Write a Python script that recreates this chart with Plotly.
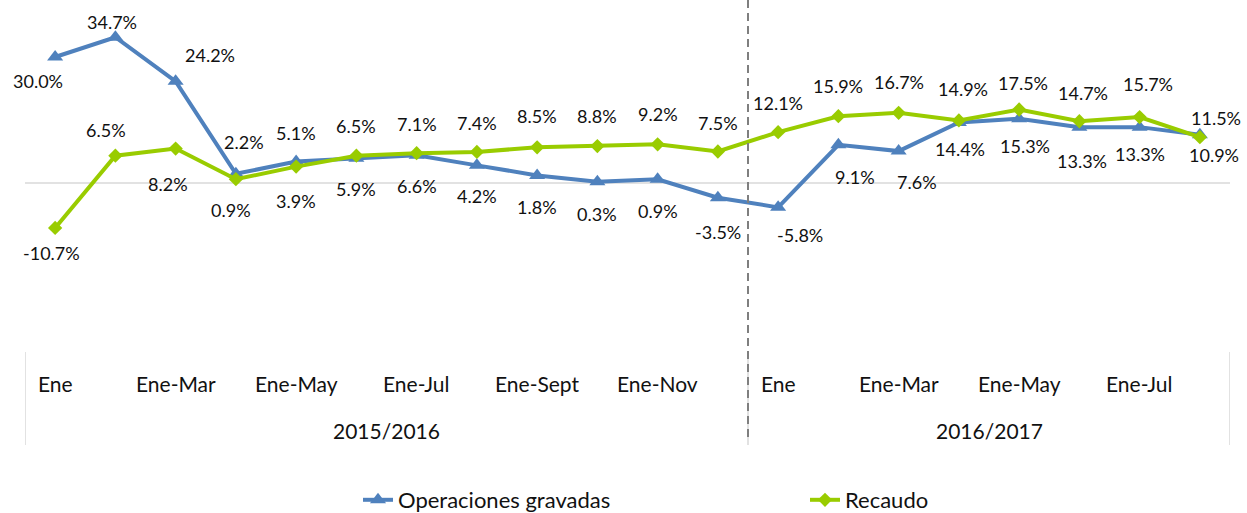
import plotly.graph_objects as go

# --- data -------------------------------------------------------------------
periodos = ["Ene", "", "Ene-Mar", "", "Ene-May", "", "Ene-Jul", "", "Ene-Sept", "",
            "Ene-Nov", "", "Ene", "", "Ene-Mar", "", "Ene-May", "", "Ene-Jul", ""]
grupos = ["2015/2016", "2016/2017"]
grupo_tamanos = [12, 8]

operaciones = [30.0, 34.7, 24.2, 2.2, 5.1, 5.9, 6.6, 4.2, 1.8, 0.3,
               0.9, -3.5, -5.8, 9.1, 7.6, 14.4, 15.3, 13.3, 13.3, 11.5]
recaudo = [-10.7, 6.5, 8.2, 0.9, 3.9, 6.5, 7.1, 7.4, 8.5, 8.8,
           9.2, 7.5, 12.1, 15.9, 16.7, 14.9, 17.5, 14.7, 15.7, 10.9]

# label nudges in screen pixels (right, down)
desp_operaciones = [(-17, 24), (-3, -15), (34, -26), (8, -32), (0, -29), (0, 31), (0, 31),
                    (0, 31), (0, 32), (0, 32), (0, 32), (0, 34), (22, 28), (17, 32),
                    (18, 31), (1, 26), (6, 27), (3, 34), (0, 27), (16, -17)]
desp_recaudo = [(-4, 25), (-9, -26), (-8, 35), (-5, 31), (0, 34), (0, -30), (0, -29),
                (0, -29), (0, -31), (0, -30), (0, -30), (0, -29), (0, -29), (0, -30),
                (0, -31), (4, -31), (4, -27), (4, -28), (8, -33), (14, 18)]

# --- layout constants (pixels) ------------------------------------------------
W, H = 1247, 513
PLOT_L, PLOT_R = 25, 1230
PLOT_T, PLOT_B = 5, 352
Y_ZERO, PX_PER_UNIT = 183, 4.2

AZUL = "#4F81BD"
VERDE = "#99CC00"
FUENTE = "Lato"
TEXTO = "#111111"

def py(pix):
    """Pixel row -> paper y."""
    return 1 - pix / H

def px(pix):
    return pix / W

n = len(periodos)
xs = list(range(n))
y_top = (Y_ZERO - PLOT_T) / PX_PER_UNIT
y_bot = -(PLOT_B - Y_ZERO) / PX_PER_UNIT

fig = go.Figure()
fig.add_trace(go.Scatter(
    x=xs, y=operaciones, name="Operaciones gravadas", mode="lines+markers",
    line=dict(color=AZUL, width=4),
    marker=dict(symbol="triangle-up", size=14, color=AZUL),
    cliponaxis=False, legend="legend",
))
fig.add_trace(go.Scatter(
    x=xs, y=recaudo, name="Recaudo", mode="lines+markers",
    line=dict(color=VERDE, width=4),
    marker=dict(symbol="diamond", size=11, color=VERDE),
    cliponaxis=False, legend="legend2",
))

annotations = []
for serie, desp in ((operaciones, desp_operaciones), (recaudo, desp_recaudo)):
    for i, (v, (dx, dy)) in enumerate(zip(serie, desp)):
        annotations.append(dict(
            x=i, y=v, xref="x", yref="y", text=f"{v:.1f}%", showarrow=False,
            xshift=dx, yshift=-dy, font=dict(family=FUENTE, size=18, color=TEXTO),
        ))

# category labels (first level)
for i, lab in enumerate(periodos):
    if lab:
        annotations.append(dict(
            x=i, y=py(383), xref="x", yref="paper", text=lab, showarrow=False,
            yanchor="middle", font=dict(family=FUENTE, size=21, color=TEXTO),
        ))

# group labels (second level) and group dividers
shapes = []
inicio = -0.5
limites = [inicio]
for g, tam in zip(grupos, grupo_tamanos):
    centro = inicio + tam / 2
    annotations.append(dict(
        x=centro, y=py(430), xref="x", yref="paper", text=g, showarrow=False,
        yanchor="middle", font=dict(family=FUENTE, size=21, color=TEXTO),
    ))
    inicio += tam
    limites.append(inicio)

for b in limites:
    shapes.append(dict(type="line", xref="x", yref="paper", x0=b, x1=b,
                       y0=py(PLOT_B), y1=py(445),
                       line=dict(color="#D9D9D9", width=1.5)))

# zero line
shapes.append(dict(type="line", xref="x", yref="y", x0=-0.5, x1=n - 0.5, y0=0, y1=0,
                   line=dict(color="#D9D9D9", width=1.5), layer="below"))

# dashed separator between the two periods
shapes.append(dict(type="line", xref="x", yref="paper", x0=limites[1], x1=limites[1],
                   y0=py(0), y1=py(438),
                   line=dict(color="#7F7F7F", width=2, dash="8px,5px")))

leg_font = dict(family=FUENTE, size=22, color=TEXTO)
fig.update_layout(
    width=W, height=H,
    margin=dict(l=0, r=0, t=0, b=0, autoexpand=False),
    paper_bgcolor="white", plot_bgcolor="white",
    xaxis=dict(domain=[px(PLOT_L), px(PLOT_R)], range=[-0.5, n - 0.5],
               showgrid=False, zeroline=False, showticklabels=False, showline=False),
    yaxis=dict(domain=[py(PLOT_B), py(PLOT_T)], range=[y_bot, y_top],
               showgrid=False, zeroline=False, showticklabels=False, showline=False),
    annotations=annotations,
    shapes=shapes,
    legend=dict(x=px(358), y=py(500), xanchor="left", yanchor="middle",
                orientation="h", font=leg_font, bgcolor="rgba(0,0,0,0)"),
    legend2=dict(x=px(805), y=py(500), xanchor="left", yanchor="middle",
                 orientation="h", font=leg_font, bgcolor="rgba(0,0,0,0)"),
    showlegend=True,
)

fig.write_html("out.html")
